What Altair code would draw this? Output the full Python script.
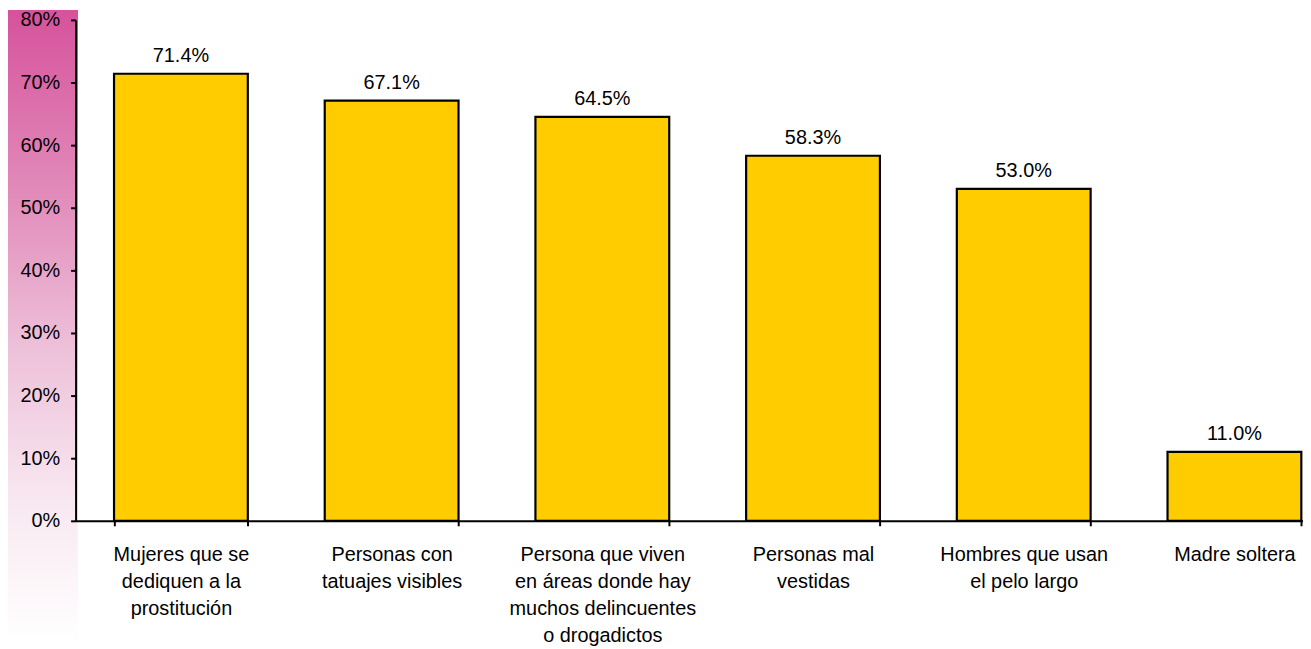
import altair as alt
import pandas as pd

categories = [
    "Mujeres que se|dediquen a la|prostitución",
    "Personas con|tatuajes visibles",
    "Persona que viven|en áreas donde hay|muchos delincuentes|o drogadictos",
    "Personas mal|vestidas",
    "Hombres que usan|el pelo largo",
    "Madre soltera",
]
values = [71.4, 67.1, 64.5, 58.3, 53.0, 11.0]
y_ticks = [0, 10, 20, 30, 40, 50, 60, 70, 80]

df = pd.DataFrame({"cat": categories, "val": values})

FONT = "Liberation Sans"
H = 504
W = 1235

x_enc = alt.X(
    "cat:N",
    sort=None,
    scale=alt.Scale(range=[0, 1272], paddingInner=0.365, paddingOuter=0.1825),
    axis=alt.Axis(
        title=None,
        labelAngle=0,
        labelExpr="split(datum.label, '|')",
        labelFont=FONT,
        labelFontSize=20,
        labelColor="black",
        labelLineHeight=27,
        labelBaseline="top",
        labelPadding=19,
        labelLimit=0,
        tickBand="extent",
        tickSize=5,
        tickColor="black",
        tickWidth=2,
        domainColor="black",
        domainWidth=2,
        zindex=1,
    ),
)
y_enc = alt.Y(
    "val:Q",
    scale=alt.Scale(domain=[0, 80], nice=False),
    axis=alt.Axis(
        title=None,
        values=y_ticks,
        labelExpr="datum.value + '%'",
        labelFont=FONT,
        labelFontSize=20,
        labelColor="black",
        labelPadding=11,
        tickSize=5,
        tickColor="black",
        tickWidth=2,
        domainColor="black",
        domainWidth=2,
        grid=False,
        zindex=1,
    ),
)

strip = alt.Chart(df).mark_rect(
    fill={
        "gradient": "linear",
        "x1": 0, "y1": 0, "x2": 0, "y2": 1,
        "stops": [
            {"offset": 0, "color": "#D6529C"},
            {"offset": 0.3, "color": "#E28DBB"},
            {"offset": 0.55, "color": "#EEC3DB"},
            {"offset": 0.78, "color": "#F8E8F1"},
            {"offset": 1, "color": "#FFFFFF"},
        ],
    }
).encode(
    x=alt.value(-68), x2=alt.value(2), y=alt.value(-10), y2=alt.value(625)
)

bars = alt.Chart(df).mark_bar(
    color="#FFCC00", stroke="black", strokeWidth=2.2
).encode(x=x_enc, y=y_enc)

text = alt.Chart(df).transform_calculate(
    lbl="format(datum.val, '.1f') + '%'"
).mark_text(
    baseline="bottom", dy=-8, font=FONT, fontSize=20, color="black"
).encode(x=alt.X("cat:N", sort=None), y="val:Q", text="lbl:N")

chart = alt.layer(strip, bars, text).properties(
    width=W, height=H,
    autosize=alt.AutoSizeParams(type="none"),
    padding={"left": 68, "top": 10, "right": 0, "bottom": 127},
    background="white",
).configure_view(stroke=None)

chart.save("out.html", embed_options={"renderer": "svg", "actions": False})
